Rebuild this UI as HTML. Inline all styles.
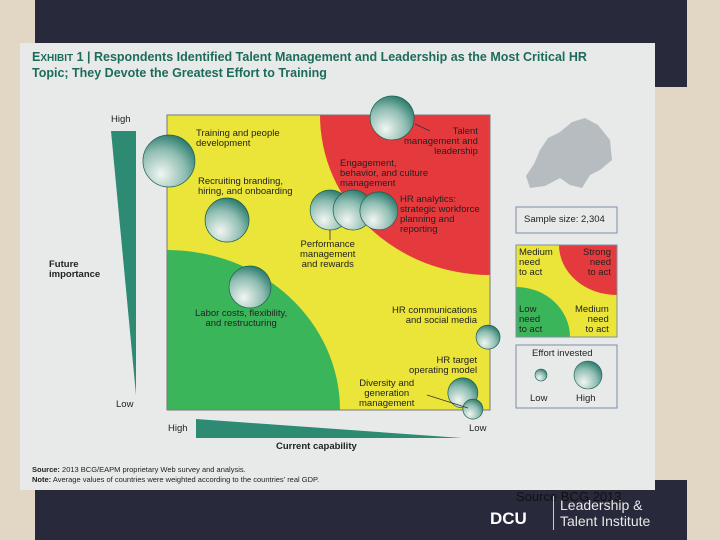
<!DOCTYPE html>
<html><head><meta charset="utf-8"><style>
html,body{margin:0;padding:0;width:720px;height:540px;overflow:hidden}
body{position:relative;background:#e2d6c4;font-family:"Liberation Sans",sans-serif}
.t{position:absolute;font-size:9.5px;line-height:10px;color:#222;white-space:nowrap}
</style></head><body>
<div style="position:absolute;left:35px;top:0;width:652px;height:87px;background:#282a3b"></div>
<div style="position:absolute;left:35px;top:480px;width:652px;height:60px;background:#282a3b"></div>
<div style="position:absolute;left:20px;top:43px;width:635px;height:447px;background:#e8eaea"></div>
<div class="t" style="left:32px;top:50px;font-size:12.5px;line-height:15px;font-weight:bold;color:#1d6b5a">E<span style="font-size:10px">XHIBIT</span> 1 | Respondents Identified Talent Management and Leadership as the Most Critical HR<br>Topic; They Devote the Greatest Effort to Training</div>
<svg width="720" height="540" style="position:absolute;left:0;top:0;display:block">
<defs>
<radialGradient id="bg" cx="0.35" cy="0.75" r="0.85">
<stop offset="0" stop-color="#f2f6f2"/><stop offset="0.55" stop-color="#8fbdb2"/><stop offset="1" stop-color="#176e5f"/></radialGradient>
<clipPath id="pc"><rect x="167" y="115" width="323" height="295"/></clipPath>
<clipPath id="lc"><rect x="516" y="245" width="101" height="92"/></clipPath>
</defs>
<g clip-path="url(#pc)">
<rect x="167" y="115" width="323" height="295" fill="#ebe539"/>
<ellipse cx="490" cy="115" rx="170" ry="160" fill="#e53a3d"/>
<ellipse cx="167" cy="410" rx="173" ry="160" fill="#3bb55a"/>
</g>
<rect x="167" y="115" width="323" height="295" fill="none" stroke="#777" stroke-width="1"/>
<polygon points="111,131 136,131 136,395" fill="#2d8a73"/>
<polygon points="196,419 196,438 462,438" fill="#2d8a73"/>
<g id="bubbles"></g>
<line x1="415" y1="124" x2="430" y2="131" stroke="#333" stroke-width="0.8"/>
<line x1="330" y1="230" x2="330" y2="240" stroke="#333" stroke-width="0.8"/>
<line x1="427" y1="395" x2="468" y2="408" stroke="#333" stroke-width="0.8"/>
<path d="M540,150 L548,138 L560,132 L572,122 L585,118 L598,125 L610,140 L612,160 L600,170 L590,175 L582,188 L570,185 L560,178 L545,186 L530,188 L526,176 L534,164 Z" fill="#b7bcc1"/>
<rect x="516" y="207" width="101" height="26" fill="#e8eaea" stroke="#7d8fa8"/>
<g clip-path="url(#lc)">
<rect x="516" y="245" width="101" height="92" fill="#ebe539"/>
<ellipse cx="617" cy="245" rx="58" ry="50" fill="#e53a3d"/>
<ellipse cx="516" cy="337" rx="54" ry="50" fill="#3bb55a"/>
</g>
<rect x="516" y="245" width="101" height="92" fill="none" stroke="#7d8fa8"/>
<rect x="516" y="345" width="101" height="63" fill="#e8eaea" stroke="#7d8fa8"/>
<circle cx="541" cy="375" r="6" fill="url(#bg)" stroke="#1b5e50" stroke-width="0.6"/>
<circle cx="588" cy="375" r="14" fill="url(#bg)" stroke="#1b5e50" stroke-width="0.6"/>
</svg>
<div class="t" style="left:111px;top:115px">High</div>
<div class="t" style="left:116px;top:400px">Low</div>
<div class="t" style="left:49px;top:260px;font-weight:bold">Future<br>importance</div>
<div class="t" style="left:168px;top:424px">High</div>
<div class="t" style="left:469px;top:424px">Low</div>
<div class="t" style="left:276px;top:442px;font-weight:bold">Current capability</div>
<div class="t" style="left:196px;top:129px">Training and people<br>development</div>
<div class="t" style="left:198px;top:177px">Recruiting branding,<br>hiring, and onboarding</div>
<div class="t" style="left:340px;top:159px">Engagement,<br>behavior, and culture<br>management</div>
<div class="t" style="left:404px;top:127px;text-align:right">Talent<br>management and<br>leadership</div>
<div class="t" style="left:400px;top:195px">HR analytics:<br>strategic workforce<br>planning and<br>reporting</div>
<div class="t" style="left:300px;top:240px;text-align:center">Performance<br>management<br>and rewards</div>
<div class="t" style="left:195px;top:309px;text-align:center">Labor costs, flexibility,<br>and restructuring</div>
<div class="t" style="left:392px;top:306px;text-align:right">HR communications<br>and social media</div>
<div class="t" style="left:409px;top:356px;text-align:right">HR target<br>operating model</div>
<div class="t" style="left:359px;top:379px;text-align:center">Diversity and<br>generation<br>management</div>
<div class="t" style="left:524px;top:215px">Sample size: 2,304</div>
<div class="t" style="left:519px;top:248px">Medium<br>need<br>to act</div>
<div class="t" style="left:583px;top:248px;text-align:right">Strong<br>need<br>to act</div>
<div class="t" style="left:519px;top:305px">Low<br>need<br>to act</div>
<div class="t" style="left:575px;top:305px;text-align:right">Medium<br>need<br>to act</div>
<div class="t" style="left:532px;top:349px">Effort invested</div>
<div class="t" style="left:530px;top:394px">Low</div>
<div class="t" style="left:576px;top:394px">High</div>
<div class="t" style="left:32px;top:465px;font-size:7.5px;line-height:10px"><b>Source:</b> 2013 BCG/EAPM proprietary Web survey and analysis.<br><b>Note:</b> Average values of countries were weighted according to the countries' real GDP.</div>
<div class="t" style="left:516px;top:490px;font-size:13px;line-height:14px;color:#111">Source BCG 2013</div>
<div class="t" style="left:490px;top:510px;font-size:17px;line-height:18px;font-weight:bold;color:#fff">DCU</div>
<div style="position:absolute;left:553px;top:496px;width:1px;height:34px;background:#ccc"></div>
<div class="t" style="left:560px;top:497px;font-size:14px;line-height:16px;color:#e8e8e8">Leadership &amp;<br>Talent Institute</div>
<script>
const topics=["Training","Recruiting","Performance","Engagement","HR analytics","Talent","Labor costs","HR comms","HR target","Diversity"];
const capability=[0.6,18.6,50.5,57.6,65.6,69.7,25.7,99.4,91.6,94.7];
const importance=[84.4,64.4,67.8,67.8,67.5,99.0,41.7,24.7,5.8,0.3];
const effort=[26,22,20,20,19,22,21,12,15,10];
const px=v=>167+v/100*323, py=v=>410-v/100*295;
const g=document.getElementById('bubbles');
for(let i=0;i<topics.length;i++){
 const c=document.createElementNS('http://www.w3.org/2000/svg','circle');
 c.setAttribute('cx',px(capability[i]));c.setAttribute('cy',py(importance[i]));c.setAttribute('r',effort[i]);
 c.setAttribute('fill','url(#bg)');c.setAttribute('stroke','#1b5e50');c.setAttribute('stroke-width','0.7');
 
 
 g.appendChild(c);
}
</script>
</body></html>
